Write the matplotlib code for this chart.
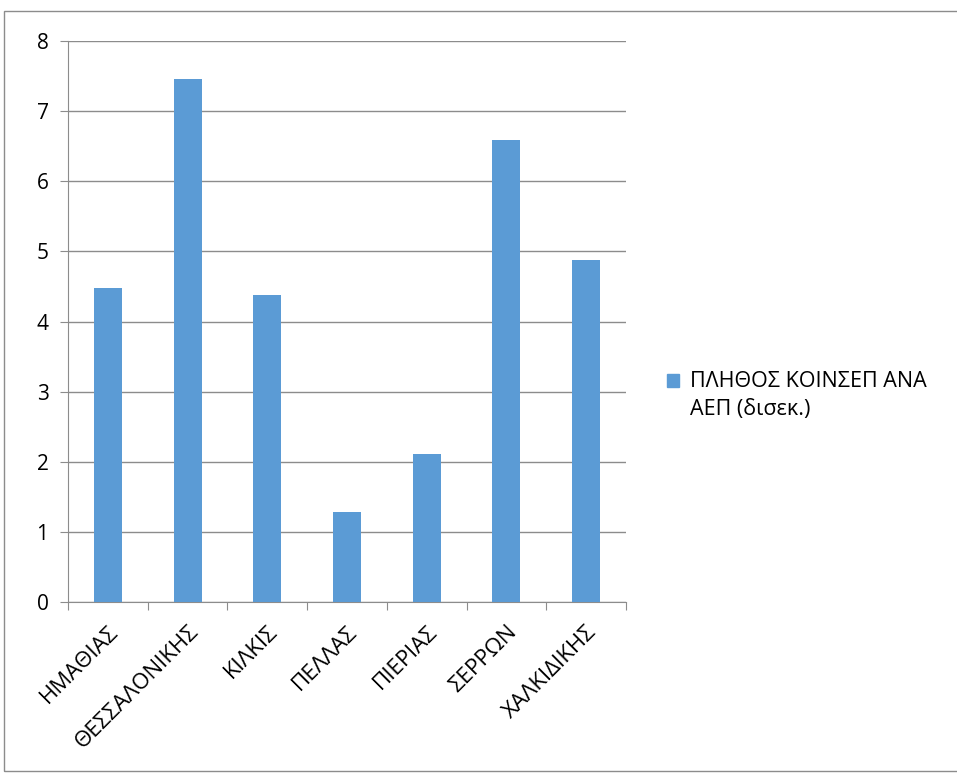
import matplotlib
matplotlib.use("Agg")
import matplotlib.pyplot as plt
from matplotlib.patches import Rectangle, Patch
from matplotlib.legend_handler import HandlerPatch

plt.rcParams['font.family'] = ['Open Sans', 'DejaVu Sans']

regions = ["ΗΜΑΘΙΑΣ", "ΘΕΣΣΑΛΟΝΙΚΗΣ", "ΚΙΛΚΙΣ", "ΠΕΛΛΑΣ", "ΠΙΕΡΙΑΣ", "ΣΕΡΡΩΝ", "ΧΑΛΚΙΔΙΚΗΣ"]
values = [4.48, 7.46, 4.38, 1.29, 2.11, 6.59, 4.88]
series_name = "ΠΛΗΘΟΣ ΚΟΙΝΣΕΠ ΑΝΑ\nΑΕΠ (δισεκ.)"

bar_color = "#5B9BD5"
grid_color = "#8C8C8C"

fig = plt.figure(figsize=(9.57, 7.74), dpi=100)
ax = fig.add_axes([68/957, 1-602/774, (626-68)/957, (602-41)/774])

x = list(range(len(regions)))
ax.bar(x, values, width=0.35, color=bar_color, zorder=3)

ax.set_xlim(-0.5, len(regions)-0.5)
ax.set_ylim(0, 8)
ax.set_yticks(range(0, 9))
ax.yaxis.grid(True, color=grid_color, linewidth=1, zorder=0)

# category ticks sit between the bars
ax.set_xticks([i - 0.5 for i in range(len(regions)+1)])
ax.set_xticklabels([])
ax.set_xticks(x, minor=True)
ax.set_xticklabels(regions, minor=True, rotation=45, ha='right', va='top',
                   rotation_mode='anchor', fontsize=16)
ax.tick_params(axis='x', which='minor', length=0, pad=14)
ax.tick_params(axis='x', which='major', length=6, color=grid_color, direction='out')
ax.tick_params(axis='y', length=6, color=grid_color, labelsize=15, pad=8)

for s in ['top', 'right']:
    ax.spines[s].set_visible(False)
for s in ['left', 'bottom']:
    ax.spines[s].set_color(grid_color)

# legend square lines up with the first text line, like Excel
def first_line_patch(legend, orig_handle, xdescent, ydescent, width, height, fontsize):
    return Rectangle((-xdescent, -ydescent + 11), width, height)

leg = fig.legend(handles=[Patch(color=bar_color, label=series_name)],
                 loc='upper left', bbox_to_anchor=(648/957, 1-352/774),
                 frameon=False, fontsize=15.5, handlelength=0.55, handleheight=0.55,
                 handletextpad=0.5,
                 handler_map={Patch: HandlerPatch(patch_func=first_line_patch)})
for t in leg.get_texts():
    t.set_linespacing(1.4)

fig.patches.append(Rectangle((4/957, 3/774), 1.0, 1-14/774, transform=fig.transFigure,
                             fill=False, edgecolor="#8C8C8C", linewidth=1))

fig.savefig("out.png", dpi=100)
